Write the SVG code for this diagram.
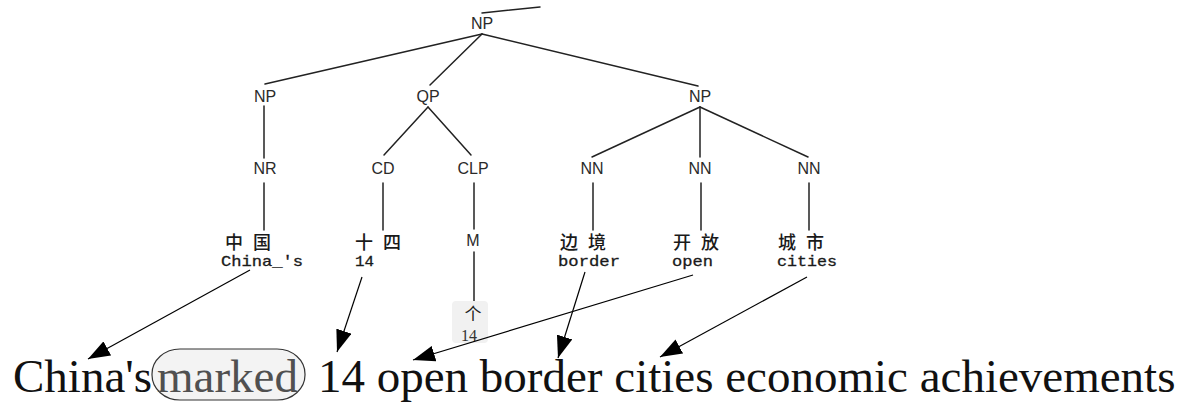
<svg xmlns="http://www.w3.org/2000/svg" width="1191" height="402" viewBox="0 0 1191 402">
  <style>
    .tag { font-family: "Liberation Sans", Arial, sans-serif; font-size: 16px; fill: #2a2a2a; text-anchor: middle; }
    .zh { font-family: "Noto Sans CJK SC", sans-serif; font-size: 18px; font-weight: 500; fill: #1a1a1a; letter-spacing: 10px; }
    .gloss { font-family: "Liberation Mono", "Courier New", monospace; font-size: 15px; fill: #1a1a1a; stroke: #1a1a1a; stroke-width: 0.3; }
    .edge { stroke: #222; stroke-width: 1.5; fill: none; stroke-linecap: round; }
    .align { stroke: #000; stroke-width: 1.2; fill: none; marker-end: url(#head); }
    .sent { font-family: "Liberation Serif", "Times New Roman", serif; font-size: 47px; fill: #111; }
  </style>
  <defs>
    <marker id="head" viewBox="0 0 22 16" refX="22" refY="8" markerWidth="22" markerHeight="16" markerUnits="userSpaceOnUse" orient="auto">
      <path d="M0,0 L22,8 L0,16 z" fill="#000"/>
    </marker>
  </defs>
  <rect width="1191" height="402" fill="#fff"/>

  <!-- parse tree edges -->
  <g id="tree-edges">
    <line class="edge" x1="482" y1="13" x2="540" y2="7"/>
    <line class="edge" x1="482" y1="34" x2="265" y2="84"/>
    <line class="edge" x1="482" y1="34" x2="430" y2="85"/>
    <line class="edge" x1="482" y1="34" x2="698" y2="86"/>
    <line class="edge" x1="264" y1="106" x2="264" y2="158"/>
    <line class="edge" x1="428" y1="107" x2="384" y2="155"/>
    <line class="edge" x1="428" y1="107" x2="471" y2="155"/>
    <line class="edge" x1="700" y1="107" x2="592" y2="157"/>
    <line class="edge" x1="700" y1="107" x2="700" y2="157"/>
    <line class="edge" x1="700" y1="107" x2="808" y2="157"/>
    <line class="edge" x1="264" y1="183" x2="264" y2="230"/>
    <line class="edge" x1="383" y1="183" x2="383" y2="230"/>
    <line class="edge" x1="474" y1="183" x2="474" y2="229"/>
    <line class="edge" x1="593" y1="183" x2="593" y2="230"/>
    <line class="edge" x1="701" y1="183" x2="701" y2="230"/>
    <line class="edge" x1="809" y1="183" x2="809" y2="230"/>
    <line class="edge" x1="474" y1="252" x2="474" y2="306"/>
  </g>

  <!-- phrase and part-of-speech nodes -->
  <g id="np-root"><text class="tag" x="482" y="29">NP</text></g>
  <g id="np-left"><text class="tag" x="265" y="102">NP</text></g>
  <g id="qp"><text class="tag" x="428" y="102">QP</text></g>
  <g id="np-right"><text class="tag" x="700" y="102">NP</text></g>
  <g id="nr"><text class="tag" x="265" y="174">NR</text></g>
  <g id="cd"><text class="tag" x="383" y="174">CD</text></g>
  <g id="clp"><text class="tag" x="473" y="174">CLP</text></g>
  <g id="nn1"><text class="tag" x="592" y="174">NN</text></g>
  <g id="nn2"><text class="tag" x="700" y="174">NN</text></g>
  <g id="nn3"><text class="tag" x="809" y="174">NN</text></g>
  <g id="m"><text class="tag" x="473" y="246">M</text></g>

  <!-- leaves: Chinese words with glosses -->
  <g id="leaf-zhongguo">
    <text class="zh" x="225" y="249">中国</text>
    <text class="gloss" x="221" y="266" textLength="82" lengthAdjust="spacingAndGlyphs">China_'s</text>
  </g>
  <g id="leaf-shisi">
    <text class="zh" x="355" y="249">十四</text>
    <text class="gloss" x="355" y="266" textLength="19" lengthAdjust="spacingAndGlyphs">14</text>
  </g>
  <g id="leaf-ge">
    <rect x="452" y="301" width="36" height="42" rx="4" fill="#f1f1f1"/>
    <text x="473" y="320" font-family="'Noto Sans CJK SC', sans-serif" font-size="17" fill="#222" text-anchor="middle">个</text>
    <text x="469" y="341" font-family="'Liberation Serif', serif" font-size="16" fill="#333" text-anchor="middle">14</text>
  </g>
  <g id="leaf-bianjing">
    <text class="zh" x="560" y="249">边境</text>
    <text class="gloss" x="558" y="266" textLength="62" lengthAdjust="spacingAndGlyphs">border</text>
  </g>
  <g id="leaf-kaifang">
    <text class="zh" x="673" y="249">开放</text>
    <text class="gloss" x="672" y="266" textLength="41" lengthAdjust="spacingAndGlyphs">open</text>
  </g>
  <g id="leaf-chengshi">
    <text class="zh" x="778" y="249">城市</text>
    <text class="gloss" x="777" y="266" textLength="60" lengthAdjust="spacingAndGlyphs">cities</text>
  </g>

  <!-- word alignments to the English sentence -->
  <g id="alignments">
    <line class="align" x1="250" y1="270" x2="88" y2="359"/>
    <line class="align" x1="362" y1="277" x2="337" y2="352"/>
    <line class="align" x1="693" y1="275" x2="413" y2="360"/>
    <line class="align" x1="585" y1="272" x2="558" y2="358"/>
    <line class="align" x1="807" y1="277" x2="660" y2="357"/>
  </g>

  <!-- English sentence -->
  <g id="sentence">
    <text class="sent" x="13" y="392">China's</text>
    <g id="marked">
      <rect x="152" y="349" width="153" height="51" rx="28" ry="25" fill="#f3f3f3" stroke="#333" stroke-width="1.2"/>
      <text class="sent" x="157" y="392" style="fill:#505050">marked</text>
    </g>
    <text class="sent" x="318" y="392">14 open border cities economic achievements</text>
  </g>
</svg>
